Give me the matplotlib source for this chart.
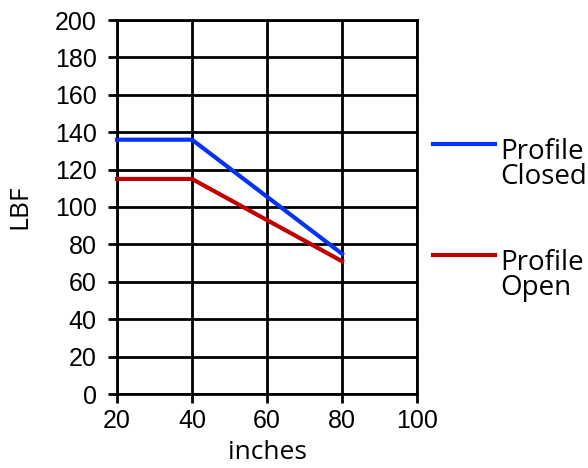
import matplotlib
matplotlib.use("Agg")
import matplotlib.pyplot as plt
from matplotlib.lines import Line2D

inches = [20, 40, 80]
closed_lbf = [136, 136, 75]
open_lbf = [115, 115, 71]
series_labels = ["Profile\nClosed", "Profile\nOpen"]
x_ticks = [20, 40, 60, 80, 100]
y_ticks = list(range(0, 201, 20))

BLUE = "#0433f5"
RED = "#c00000"
TICK_FONT = ["Liberation Sans", "Arial", "DejaVu Sans"]
LABEL_FONT = "Open Sans"

fig = plt.figure(figsize=(5.88, 4.68), dpi=100)
ax = fig.add_axes([117 / 588, 74 / 468, 300 / 588, 374 / 468])

ax.plot(inches, closed_lbf, color=BLUE, lw=3.0, solid_capstyle="projecting",
        clip_on=False, zorder=3)
ax.plot(inches, open_lbf, color=RED, lw=3.0, solid_capstyle="projecting",
        clip_on=False, zorder=3)

ax.set_xlim(20, 100)
ax.set_ylim(0, 200)
ax.set_xticks(x_ticks)
ax.set_yticks(y_ticks)
ax.grid(True, color="black", lw=2.0)
for spine in ax.spines.values():
    spine.set_linewidth(2.0)
    spine.set_color("black")
ax.tick_params(direction="out", length=6.5, width=2.0,
               labelsize=18, labelfontfamily=TICK_FONT)
ax.tick_params(axis="x", pad=4.5)
ax.tick_params(axis="y", pad=8)

ax.set_xlabel("inches", family=LABEL_FONT, fontsize=19, labelpad=5)
ax.set_ylabel("LBF", family=LABEL_FONT, fontsize=19, labelpad=16)

# legend drawn by hand to the right of the plot
for color, label, y in zip([BLUE, RED], series_labels, [144, 255]):
    fy = 1 - y / 468
    fig.add_artist(Line2D([433 / 588, 495 / 588], [fy, fy], color=color, lw=3.0))
    fig.text(500 / 588, 1 - (y - 6) / 468, label, family=LABEL_FONT,
             fontsize=20, va="top", ha="left", linespacing=0.86)

fig.savefig("out.png", dpi=100)
